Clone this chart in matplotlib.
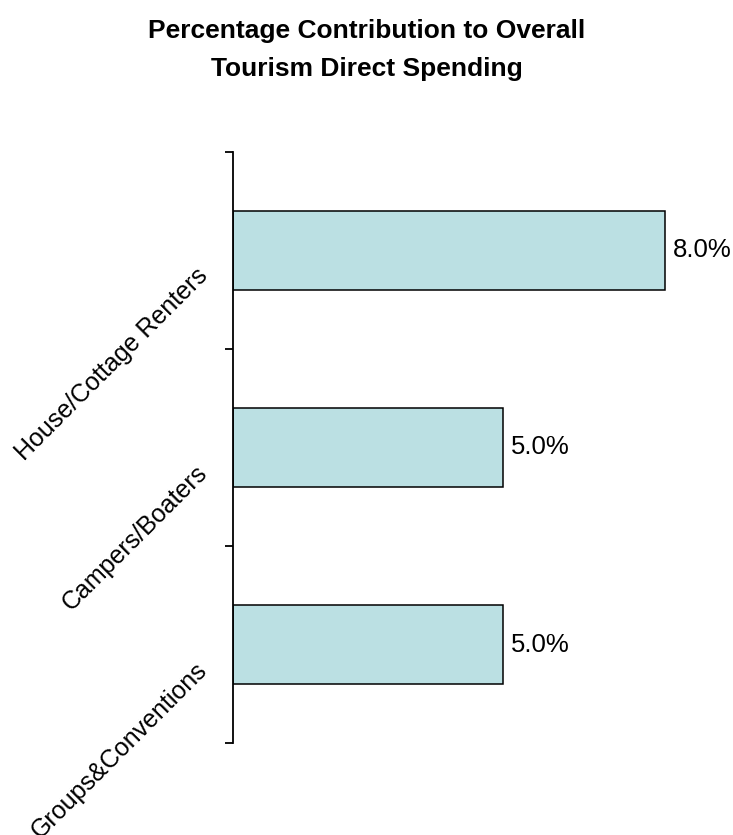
import matplotlib
matplotlib.use("Agg")
import matplotlib.pyplot as plt
import matplotlib.transforms as mtransforms

categories = ["House/Cottage Renters", "Campers/Boaters", "Groups&Conventions"]
values = [8.0, 5.0, 5.0]
value_labels = ["8.0%", "5.0%", "5.0%"]

plt.rcParams["font.family"] = ["Liberation Sans", "DejaVu Sans"]

fig = plt.figure(figsize=(7.33, 8.35), dpi=100)
ax = fig.add_axes([233 / 733, 1 - 743 / 835, (719 - 233) / 733, (743 - 152) / 835])

ypos = list(range(len(categories)))
ax.barh(ypos, values, height=0.406, color="#BBE0E3", edgecolor="black", linewidth=1.1)

ax.set_ylim(len(categories) - 0.5, -0.5)
ax.set_xlim(0, 9)

# value labels at bar ends
for y, v, lab in zip(ypos, values, value_labels):
    ax.annotate(lab, xy=(v, y), xytext=(8, 0), textcoords="offset pixels",
                ha="left", va="center", fontsize=18.5)

# category boundaries as ticks, names as minor tick labels
ax.set_yticks([i - 0.5 for i in range(len(categories) + 1)])
ax.set_yticklabels([])
ax.tick_params(axis="y", which="major", direction="out", length=6, width=1.3, color="black")
ax.set_yticks(ypos, minor=True)
ax.set_yticklabels(categories, minor=True, rotation=45, ha="right", va="center",
                   rotation_mode="anchor", fontsize=18)
ax.tick_params(axis="y", which="minor", length=0, pad=21)
offset = mtransforms.ScaledTranslation(0, -22 / 100, fig.dpi_scale_trans)
for lbl in ax.get_yticklabels(minor=True):
    lbl.set_transform(lbl.get_transform() + offset)

ax.set_xticks([])
for side in ["top", "right", "bottom"]:
    ax.spines[side].set_visible(False)
ax.spines["left"].set_linewidth(1.3)

fig.text(0.5, 1 - 31 / 835, "Percentage Contribution to Overall", ha="center", va="center",
         fontsize=19, fontweight="bold")
fig.text(0.5, 1 - 69 / 835, "Tourism Direct Spending", ha="center", va="center",
         fontsize=19, fontweight="bold")

fig.savefig("out.png", dpi=100)
